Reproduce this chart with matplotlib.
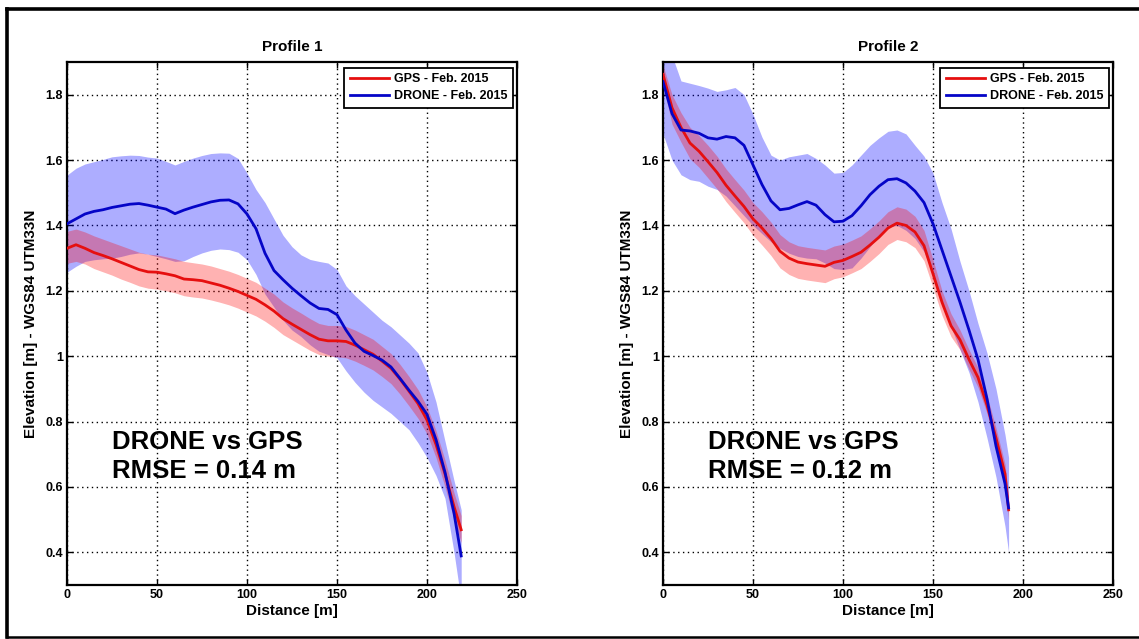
import matplotlib
matplotlib.use("Agg")
import matplotlib.pyplot as plt
from matplotlib.lines import Line2D

plt.rcParams['font.family'] = ['Liberation Sans', 'DejaVu Sans']

# ---------------- Profile 1 ----------------
p1_dist = [0, 5, 10, 15, 20, 25, 30, 35, 40, 45, 50, 55, 60, 65, 70, 75, 80, 85, 90, 95,
           100, 105, 110, 115, 120, 125, 130, 135, 140, 145, 150, 155, 160, 165, 170, 175,
           180, 185, 190, 195, 200, 205, 210, 215, 219]
p1_gps = [1.330, 1.341, 1.330, 1.317, 1.308, 1.298, 1.287, 1.276, 1.265, 1.258, 1.257, 1.252,
          1.246, 1.236, 1.234, 1.231, 1.224, 1.217, 1.208, 1.198, 1.186, 1.174, 1.157, 1.138,
          1.115, 1.098, 1.082, 1.066, 1.052, 1.047, 1.047, 1.045, 1.034, 1.020, 1.006, 0.985,
          0.963, 0.930, 0.893, 0.855, 0.805, 0.730, 0.640, 0.540, 0.469]
p1_gps_hi = [1.382, 1.389, 1.380, 1.368, 1.358, 1.348, 1.338, 1.328, 1.318, 1.312, 1.310, 1.304,
             1.298, 1.290, 1.286, 1.282, 1.276, 1.268, 1.260, 1.250, 1.238, 1.226, 1.208, 1.190,
             1.166, 1.148, 1.132, 1.115, 1.100, 1.094, 1.094, 1.091, 1.080, 1.066, 1.052, 1.030,
             1.008, 0.975, 0.938, 0.898, 0.845, 0.772, 0.682, 0.582, 0.512]
p1_gps_lo = [1.284, 1.290, 1.282, 1.268, 1.258, 1.248, 1.236, 1.226, 1.215, 1.208, 1.205, 1.200,
             1.194, 1.185, 1.181, 1.178, 1.172, 1.165, 1.157, 1.147, 1.135, 1.123, 1.107, 1.088,
             1.066, 1.050, 1.034, 1.018, 1.005, 1.000, 0.998, 0.995, 0.985, 0.972, 0.958, 0.938,
             0.916, 0.884, 0.848, 0.810, 0.762, 0.690, 0.600, 0.500, 0.430]
p1_drone = [1.405, 1.420, 1.435, 1.443, 1.448, 1.455, 1.460, 1.465, 1.467, 1.462, 1.456, 1.450,
            1.436, 1.447, 1.456, 1.464, 1.472, 1.477, 1.478, 1.466, 1.435, 1.390, 1.315, 1.262,
            1.234, 1.208, 1.185, 1.163, 1.146, 1.143, 1.127, 1.080, 1.040, 1.015, 1.002, 0.988,
            0.967, 0.932, 0.896, 0.862, 0.822, 0.745, 0.645, 0.520, 0.389]
p1_drone_hi = [1.554, 1.575, 1.588, 1.595, 1.602, 1.610, 1.613, 1.615, 1.614, 1.609, 1.606, 1.596,
               1.585, 1.596, 1.606, 1.614, 1.620, 1.622, 1.621, 1.605, 1.560, 1.510, 1.470, 1.420,
               1.370, 1.335, 1.310, 1.296, 1.290, 1.285, 1.265, 1.215, 1.185, 1.160, 1.135, 1.110,
               1.090, 1.065, 1.040, 1.010, 0.950, 0.860, 0.740, 0.620, 0.530]
p1_drone_lo = [1.257, 1.275, 1.290, 1.295, 1.298, 1.300, 1.305, 1.312, 1.316, 1.312, 1.305, 1.298,
               1.290, 1.292, 1.305, 1.316, 1.324, 1.328, 1.326, 1.318, 1.295, 1.250, 1.190, 1.150,
               1.110, 1.080, 1.060, 1.035, 1.015, 1.005, 0.995, 0.955, 0.920, 0.890, 0.865, 0.845,
               0.825, 0.800, 0.775, 0.735, 0.690, 0.635, 0.565, 0.400, 0.250]

# ---------------- Profile 2 ----------------
p2_dist = [0, 5, 10, 15, 20, 25, 30, 35, 40, 45, 50, 55, 60, 65, 70, 75, 80, 85, 90, 95,
           100, 105, 110, 115, 120, 125, 130, 135, 140, 145, 150, 155, 160, 165, 170, 175,
           180, 185, 190, 192]
p2_gps = [1.862, 1.760, 1.700, 1.652, 1.627, 1.595, 1.562, 1.523, 1.490, 1.458, 1.420, 1.392,
          1.360, 1.321, 1.300, 1.288, 1.283, 1.279, 1.275, 1.287, 1.293, 1.305, 1.318, 1.340,
          1.364, 1.392, 1.407, 1.400, 1.380, 1.338, 1.252, 1.165, 1.093, 1.050, 0.990, 0.935,
          0.850, 0.750, 0.640, 0.530]
p2_gps_hi = [1.890, 1.800, 1.745, 1.700, 1.675, 1.645, 1.612, 1.573, 1.540, 1.508, 1.470, 1.442,
             1.410, 1.372, 1.350, 1.338, 1.333, 1.329, 1.325, 1.337, 1.343, 1.355, 1.368, 1.390,
             1.414, 1.442, 1.457, 1.450, 1.428, 1.385, 1.295, 1.200, 1.130, 1.080, 1.020, 0.965,
             0.880, 0.780, 0.670, 0.570]
p2_gps_lo = [1.830, 1.710, 1.655, 1.604, 1.578, 1.545, 1.512, 1.473, 1.440, 1.408, 1.370, 1.340,
             1.308, 1.270, 1.250, 1.238, 1.233, 1.229, 1.225, 1.237, 1.243, 1.255, 1.268, 1.290,
             1.314, 1.342, 1.357, 1.350, 1.332, 1.292, 1.210, 1.125, 1.060, 1.020, 0.960, 0.905,
             0.825, 0.720, 0.610, 0.500]
p2_drone = [1.840, 1.742, 1.692, 1.689, 1.682, 1.668, 1.664, 1.672, 1.668, 1.645, 1.585, 1.525,
            1.475, 1.448, 1.452, 1.463, 1.473, 1.462, 1.433, 1.411, 1.413, 1.430, 1.460, 1.494,
            1.520, 1.540, 1.543, 1.530, 1.505, 1.470, 1.405, 1.325, 1.245, 1.165, 1.080, 0.990,
            0.870, 0.725, 0.610, 0.536]
p2_drone_hi = [1.950, 1.920, 1.842, 1.835, 1.828, 1.820, 1.810, 1.815, 1.822, 1.800, 1.740, 1.670,
               1.615, 1.600, 1.610, 1.615, 1.620, 1.605, 1.585, 1.560, 1.562, 1.585, 1.615, 1.645,
               1.668, 1.688, 1.692, 1.680, 1.645, 1.612, 1.560, 1.470, 1.390, 1.290, 1.200, 1.100,
               1.010, 0.900, 0.760, 0.690]
p2_drone_lo = [1.680, 1.600, 1.555, 1.540, 1.535, 1.520, 1.510, 1.490, 1.460, 1.430, 1.400, 1.375,
               1.350, 1.330, 1.315, 1.305, 1.300, 1.298, 1.285, 1.268, 1.265, 1.270, 1.300, 1.335,
               1.370, 1.395, 1.400, 1.385, 1.360, 1.320, 1.250, 1.170, 1.090, 1.020, 0.950, 0.860,
               0.750, 0.630, 0.480, 0.400]

titles = ["Profile 1", "Profile 2"]
rmse_texts = ["RMSE = 0.14 m", "RMSE = 0.12 m"]
legend_labels = ["GPS - Feb. 2015", "DRONE - Feb. 2015"]
x_ticks = [0, 50, 100, 150, 200, 250]
y_ticks = [0.4, 0.6, 0.8, 1.0, 1.2, 1.4, 1.6, 1.8]
y_tick_labels = ["0.4", "0.6", "0.8", "1", "1.2", "1.4", "1.6", "1.8"]

RED = (0.90, 0.06, 0.06)
BLUE = (0.02, 0.02, 0.78)

fig = plt.figure(figsize=(11.39, 6.39), dpi=100)
fig.patch.set_facecolor("white")

profiles = [
    (p1_dist, p1_gps, p1_gps_lo, p1_gps_hi, p1_drone, p1_drone_lo, p1_drone_hi),
    (p2_dist, p2_gps, p2_gps_lo, p2_gps_hi, p2_drone, p2_drone_lo, p2_drone_hi),
]
lefts = [67 / 1139, 663 / 1139]

for i, (dist, gps, glo, ghi, drn, dlo, dhi) in enumerate(profiles):
    ax = fig.add_axes([lefts[i], 54 / 639, 450 / 1139, 523 / 639])
    ax.fill_between(dist, dlo, dhi, color=(0.0, 0.0, 1.0), alpha=0.32, linewidth=0, zorder=2)
    ax.fill_between(dist, glo, ghi, color=(1.0, 0.0, 0.0), alpha=0.30, linewidth=0, zorder=2)
    l1, = ax.plot(dist, gps, color=RED, lw=2.0, zorder=4, label=legend_labels[0])
    l2, = ax.plot(dist, drn, color=BLUE, lw=2.0, zorder=5, label=legend_labels[1])

    ax.set_xlim(0, 250)
    ax.set_ylim(0.3, 1.9)
    ax.set_xticks(x_ticks)
    ax.set_yticks(y_ticks)
    ax.set_yticklabels(y_tick_labels)
    ax.grid(True, color="black", linestyle=(0, (1, 2.5)), linewidth=1.0, zorder=1)
    ax.set_axisbelow(True)
    ax.tick_params(direction="in", length=4, width=1.0, top=True, right=True,
                   labelsize=9, pad=3)
    for lab in ax.get_xticklabels() + ax.get_yticklabels():
        lab.set_fontweight("bold")
    for sp in ax.spines.values():
        sp.set_linewidth(1.6)
        sp.set_color("black")

    ax.set_title(titles[i], fontsize=11, fontweight="bold", pad=8)
    ax.set_xlabel("Distance [m]", fontsize=11, fontweight="bold", labelpad=2)
    ax.set_ylabel("Elevation [m] - WGS84 UTM33N", fontsize=11, fontweight="bold", labelpad=5)

    ax.text(25, 0.716, "DRONE vs GPS", fontsize=18.5, fontweight="bold",
            va="baseline", ha="left", zorder=6)
    ax.text(25, 0.628, rmse_texts[i], fontsize=18.5, fontweight="bold",
            va="baseline", ha="left", zorder=6)

    leg = ax.legend(handles=[l1, l2], loc="upper right", bbox_to_anchor=(0.991, 0.989),
                    borderaxespad=0, fancybox=False, framealpha=1, edgecolor="black",
                    prop={"size": 9, "weight": "bold"}, handlelength=3.1,
                    handletextpad=0.4, borderpad=0.45, labelspacing=0.4)
    leg.get_frame().set_linewidth(1.3)
    leg.set_zorder(10)

# outer frame
fig.add_artist(Line2D([7 / 1139, 1.0], [1 - 9 / 639, 1 - 9 / 639], color="black", lw=2.6,
                      transform=fig.transFigure))
fig.add_artist(Line2D([7 / 1139, 7 / 1139], [2 / 639, 1 - 9 / 639], color="black", lw=2.6,
                      transform=fig.transFigure))
fig.add_artist(Line2D([7 / 1139, 1.0], [2 / 639, 2 / 639], color="black", lw=1.8,
                      transform=fig.transFigure))

fig.savefig("out.png", dpi=100)
